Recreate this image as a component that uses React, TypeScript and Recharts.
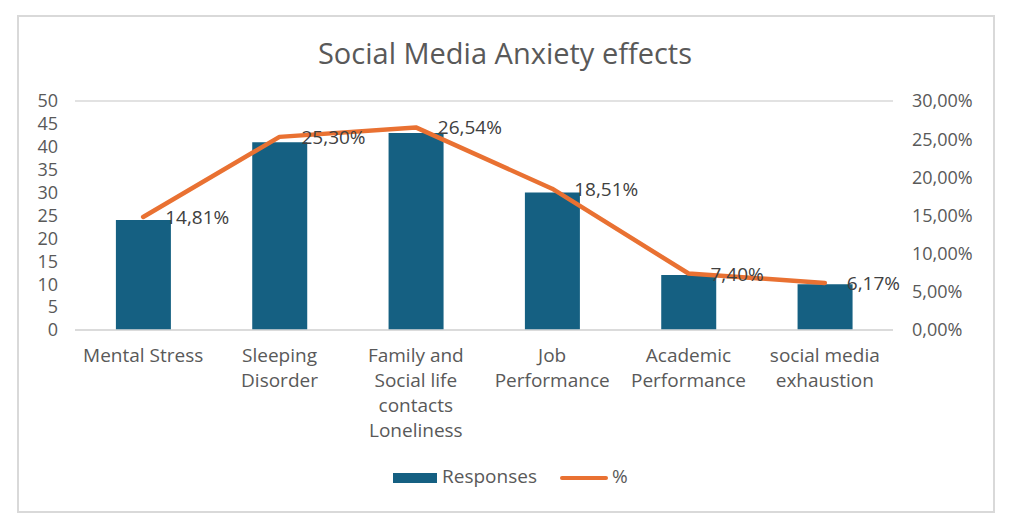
import React from "react";
import {
  ComposedChart,
  Bar,
  Line,
  XAxis,
  YAxis,
  CartesianGrid,
  Legend,
  LabelList,
} from "recharts";

const categories: string[][] = [
  ["Mental Stress"],
  ["Sleeping", "Disorder"],
  ["Family and", "Social life", "contacts", "Loneliness"],
  ["Job", "Performance"],
  ["Academic", "Performance"],
  ["social media", "exhaustion"],
];
const responses = [24, 41, 43, 30, 12, 10];
const percents = [0.1481, 0.253, 0.2654, 0.1851, 0.074, 0.0617];
const leftTicks = [0, 5, 10, 15, 20, 25, 30, 35, 40, 45, 50];
const rightTicks = [0, 0.05, 0.1, 0.15, 0.2, 0.25, 0.3];

const data = categories.map((c, i) => ({
  name: c.join(" "),
  lines: c,
  Responses: responses[i],
  pct: percents[i],
}));

const FONT = "'Open Sans', sans-serif";
const TEXT = "#595959";
const BLUE = "#156082";
const ORANGE = "#E97132";
const FS = 19;
const AXFS = 18;

const fmtPct = (v: number) => (v * 100).toFixed(2).replace(".", ",") + "%";

const XTick = (props: any) => {
  const { x, y, payload, index } = props;
  const lines = categories[index] ?? [payload.value];
  return (
    <g>
      {lines.map((l: string, i: number) => (
        <text
          key={i}
          x={x}
          y={y + i * 25}
          textAnchor="middle"
          dominantBaseline="middle"
          fill={TEXT}
          fontSize={FS}
          fontFamily={FONT}
        >
          {l}
        </text>
      ))}
    </g>
  );
};

const PctLabel = (props: any) => {
  const { x, y, value } = props;
  return (
    <text
      x={x + 22}
      y={y + 2}
      dominantBaseline="middle"
      fill="#404040"
      fontSize={FS}
      fontFamily={FONT}
    >
      {fmtPct(value)}
    </text>
  );
};

const LegendContent = () => (
  <svg width={1023} height={40} style={{ overflow: "visible", display: "block" }}>
    <rect x={393} y={8} width={44} height={10} fill={BLUE} />
    <text x={442} y={13} dominantBaseline="middle" fill={TEXT} fontSize={FS} fontFamily={FONT}>
      Responses
    </text>
    <line x1={562} y1={13} x2={606} y2={13} stroke={ORANGE} strokeWidth={4} strokeLinecap="round" />
    <text x={612} y={13} dominantBaseline="middle" fill={TEXT} fontSize={FS} fontFamily={FONT}>
      %
    </text>
  </svg>
);

export default function App() {
  return (
    <div
      style={{
        position: "absolute",
        left: 0,
        top: 0,
        width: 1023,
        height: 532,
        background: "#fff",
        fontFamily: FONT,
      }}
    >
      <div
        style={{
          position: "absolute",
          left: 17,
          top: 15,
          width: 974,
          height: 494,
          border: "2px solid #D9D9D9",
        }}
      />
      <div
        style={{
          position: "absolute",
          left: 0,
          width: 1010,
          top: 33,
          textAlign: "center",
          fontSize: 29,
          color: TEXT,
          lineHeight: "40px",
        }}
      >
        Social Media Anxiety effects
      </div>
      <div style={{ position: "absolute", left: 0, top: 0 }}>
        <ComposedChart
          width={1023}
          height={532}
          data={data}
          margin={{ top: 101, right: 20, left: 20, bottom: 52 }}
          barCategoryGap="30%"
        >
          <CartesianGrid vertical={false} stroke="#D9D9D9" strokeWidth={1.5} />
          <XAxis
            dataKey="name"
            interval={0}
            height={110}
            axisLine={{ stroke: "#D9D9D9", strokeWidth: 1.5 }}
            tickLine={false}
            tickSize={0}
            tickMargin={27}
            tick={<XTick />}
          />
          <YAxis
            yAxisId="left"
            width={55}
            domain={[0, 50]}
            ticks={leftTicks}
            interval={0}
            axisLine={false}
            tickLine={false}
            tickSize={0}
            tickMargin={17}
            tick={{ fill: TEXT, fontSize: AXFS, fontFamily: FONT }}
          />
          <YAxis
            yAxisId="right"
            orientation="right"
            width={110}
            domain={[0, 0.3]}
            ticks={rightTicks}
            interval={0}
            tickFormatter={fmtPct}
            axisLine={false}
            tickLine={false}
            tickSize={0}
            tickMargin={19}
            tick={{ fill: TEXT, fontSize: AXFS, fontFamily: FONT }}
          />
          <Bar
            yAxisId="left"
            dataKey="Responses"
            fill={BLUE}
            isAnimationActive={false}
          />
          <Line
            yAxisId="right"
            dataKey="pct"
            name="%"
            stroke={ORANGE}
            strokeWidth={4.5}
            strokeLinecap="round"
            strokeLinejoin="round"
            dot={false}
            activeDot={false}
            isAnimationActive={false}
          >
            <LabelList dataKey="pct" content={<PctLabel />} />
          </Line>
          <Legend
            content={<LegendContent />}
            wrapperStyle={{ position: "absolute", left: 0, top: 465, width: 1023, height: 40 }}
          />
        </ComposedChart>
      </div>
    </div>
  );
}
